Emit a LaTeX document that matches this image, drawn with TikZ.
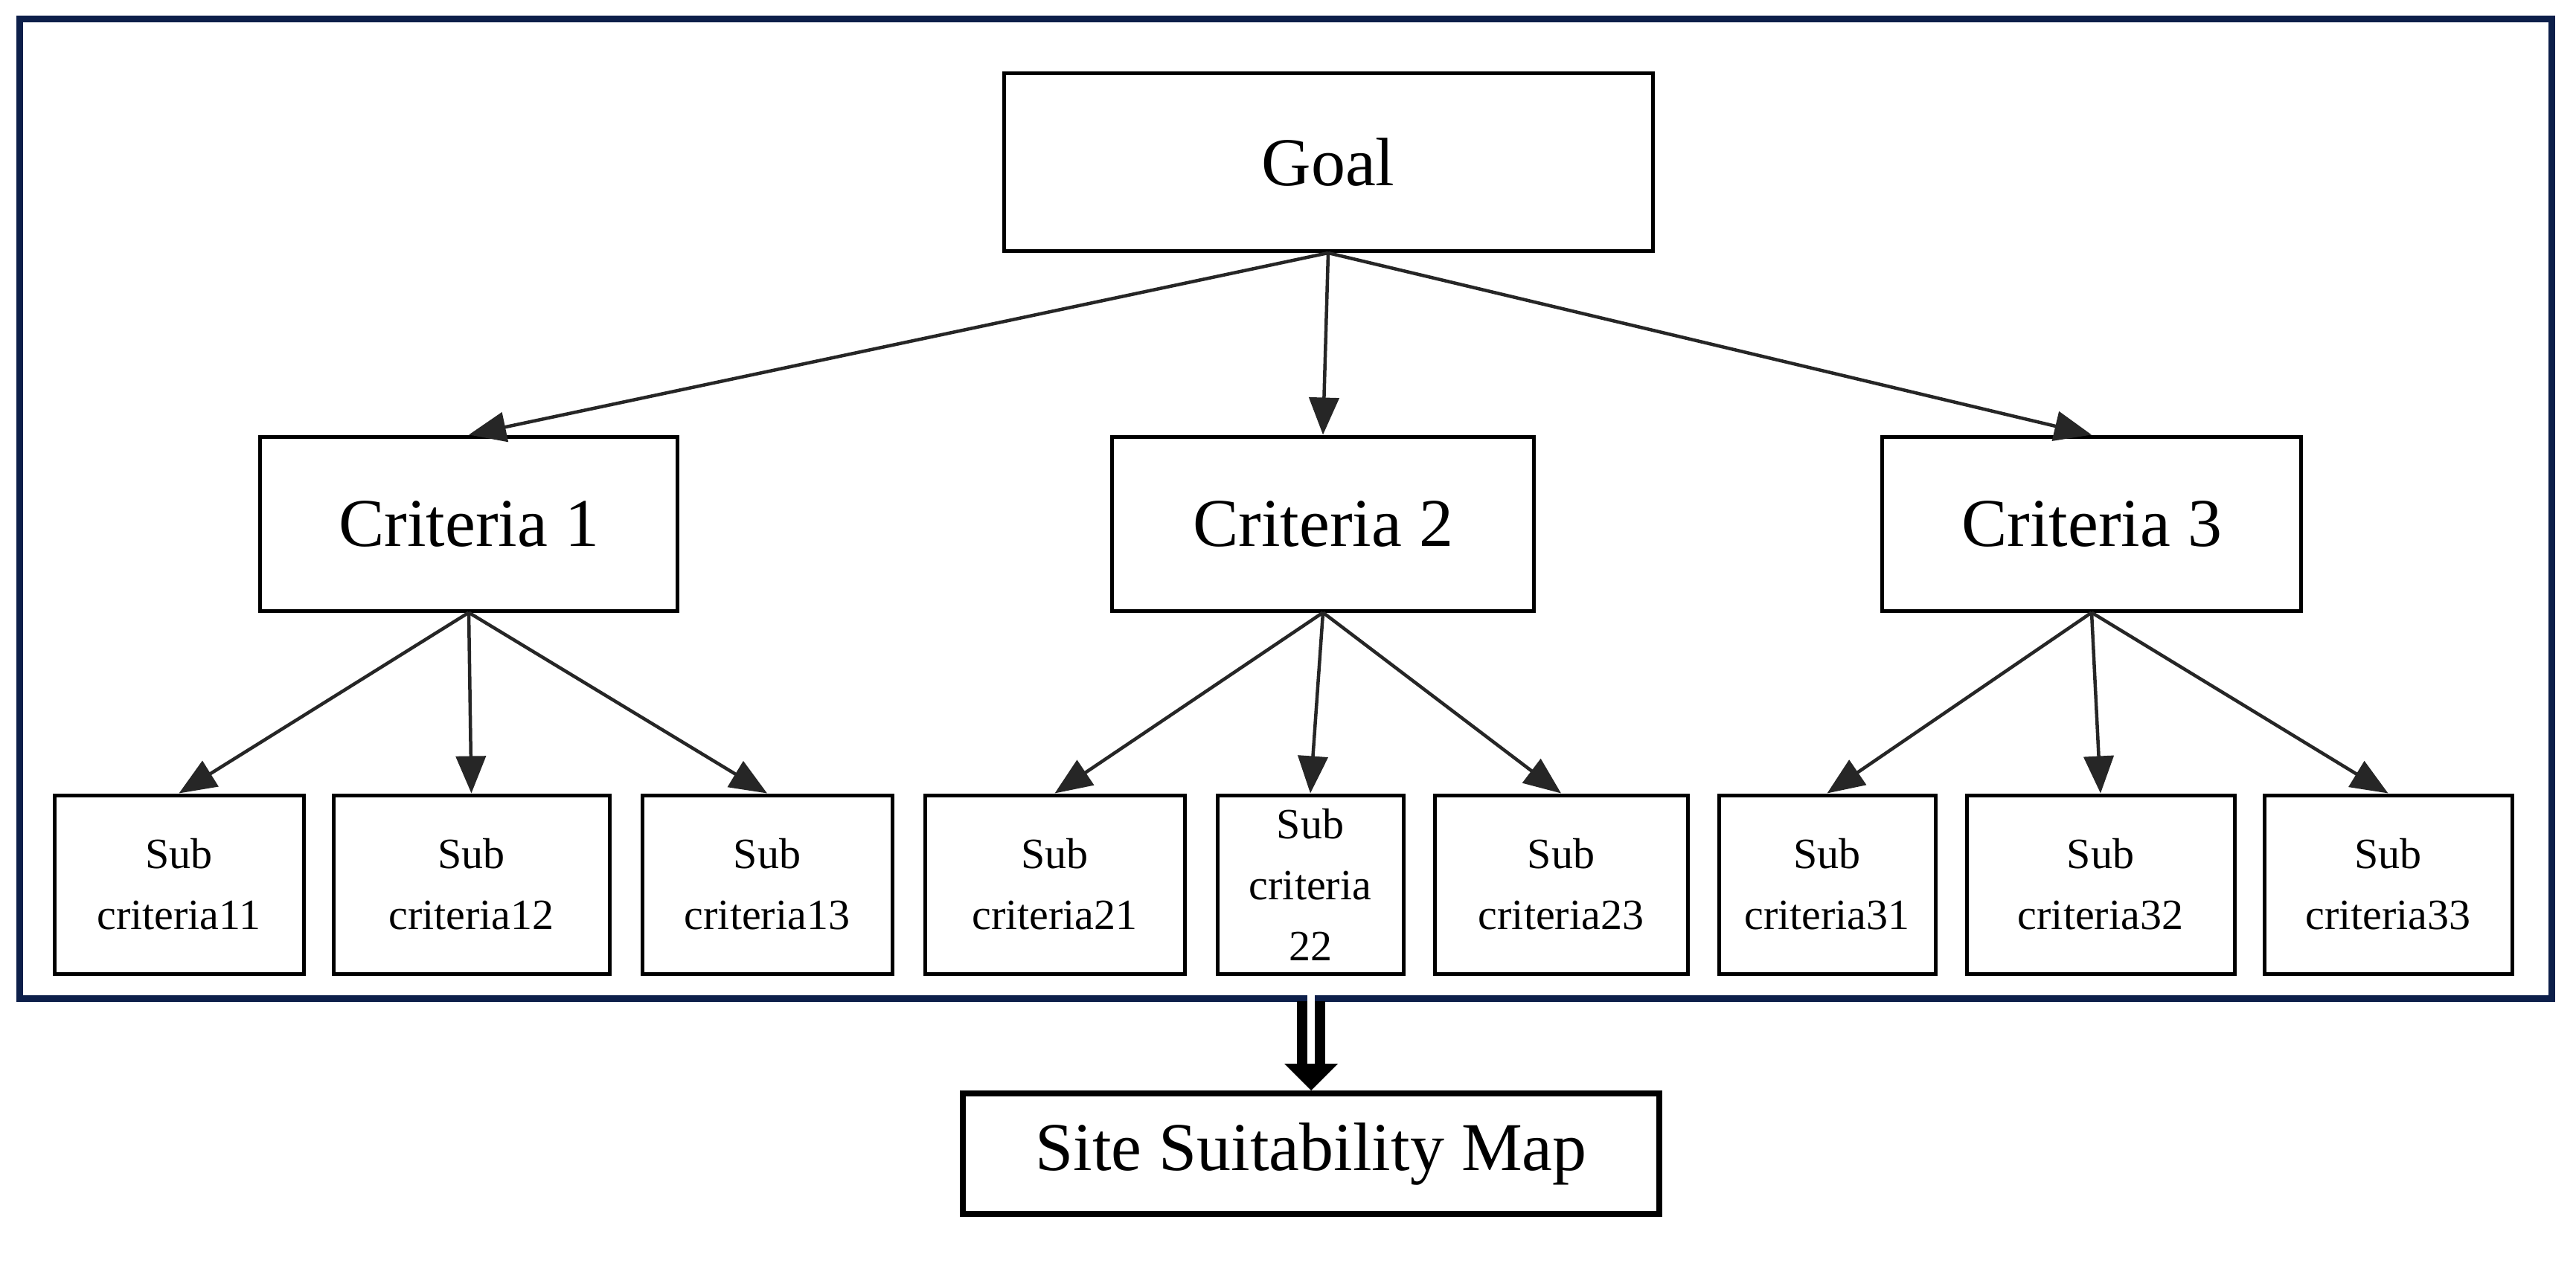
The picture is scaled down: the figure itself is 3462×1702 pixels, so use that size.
\documentclass[tikz,border=0pt]{standalone}
\usepackage{fontspec}
\setmainfont{Liberation Serif}
\usetikzlibrary{arrows.meta}
\definecolor{navy}{HTML}{0D1F4A}
\begin{document}
\begin{tikzpicture}[x=1pt,y=-1pt,
  box/.style={draw=black,line width=5pt,minimum height=#1,inner sep=0pt,align=center},
  bigtxt/.style={font=\fontsize{92}{100}\selectfont},
  subtxt/.style={font=\fontsize{58}{82}\selectfont},
  arr/.style={draw=black!85,line width=4.5pt,-{Triangle[length=50pt,width=40pt]}}]
\useasboundingbox (0,0) rectangle (3462,1702);
\fill[white] (0,0) rectangle (3462,1702);
\draw[navy,line width=9pt] (26,26) rectangle (3429,1342);
\coordinate (fb) at (1762,1346);
\node[box=239pt,minimum width=872pt,bigtxt] (goal) at (1785,218) {Goal};
\node[box=234pt,minimum width=561pt,bigtxt] (c1) at (630,704) {Criteria 1};
\node[box=234pt,minimum width=567pt,bigtxt] (c2) at (1778,704) {Criteria 2};
\node[box=234pt,minimum width=563pt,bigtxt] (c3) at (2811,704) {Criteria 3};
\foreach \n/\a/\b/\t in {s11/73/408/{Sub\\criteria11},s12/448/819/{Sub\\criteria12},s13/863/1199/{Sub\\criteria13},
  s21/1243/1592/{Sub\\criteria21},s22/1636/1886/{Sub\\criteria\\22},s23/1928/2268/{Sub\\criteria23},
  s31/2310/2601/{Sub\\criteria31},s32/2643/3003/{Sub\\criteria32},s33/3043/3376/{Sub\\criteria33}}
  {\node[box=240pt,minimum width=\b pt-\a pt,subtxt] (\n) at ({(\a+\b)/2},1189) {\t};}
\node[draw=black,line width=8pt,minimum width=936pt,minimum height=162pt,inner sep=0pt,bigtxt] (map) at (1762,1551) {Site Suitability Map};
\foreach \c in {c1,c2,c3} \draw[arr] (goal.south) -- (\c.north);
\foreach \c/\s in {c1/s11,c1/s12,c1/s13,c2/s21,c2/s22,c2/s23,c3/s31,c3/s32,c3/s33}
  \draw[arr] (\c.south) -- (\s.north);
\coordinate (ah) at (1762,1432);
\draw[line width=38pt] (fb) -- (ah);
\draw[white,line width=10pt] ([yshift=10pt]fb) -- ([yshift=-4pt]ah);
\fill (1726,1430) -- (1798,1430) -- (map.north) -- cycle;
\end{tikzpicture}
\end{document}
